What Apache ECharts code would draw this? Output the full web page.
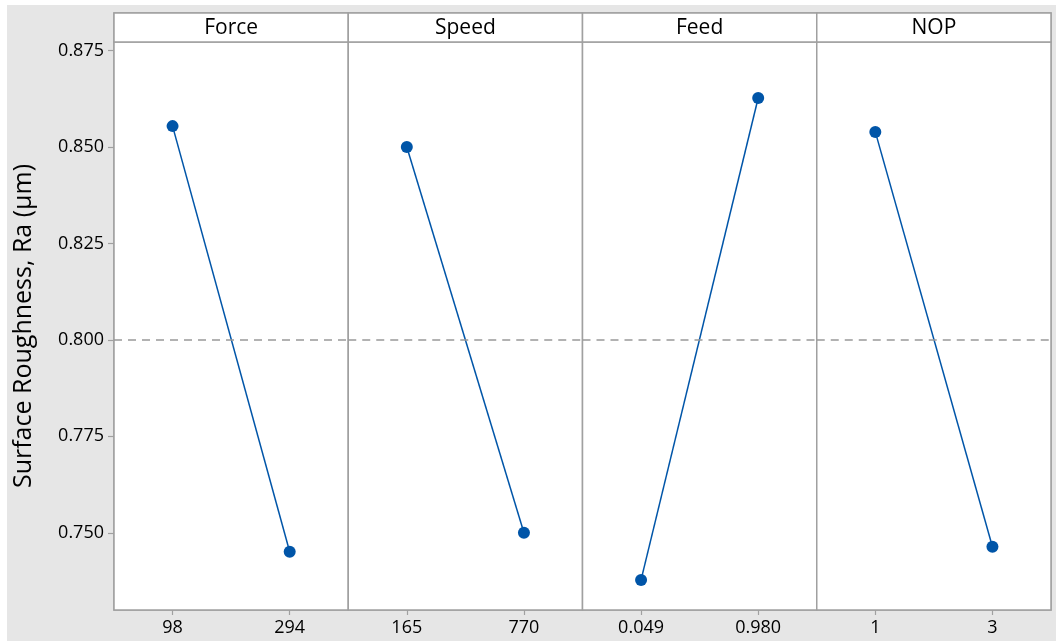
<!DOCTYPE html>
<html>
<head>
<meta charset="utf-8">
<script src="https://cdn.jsdelivr.net/npm/echarts@6/dist/echarts.min.js"></script>
<style>
html,body{margin:0;padding:0;background:#fff;}
#chart{width:1056px;height:641px;}
</style>
</head>
<body>
<div id="chart"></div>
<script>
const panels = ['Force', 'Speed', 'Feed', 'NOP'];
const levels = [['98', '294'], ['165', '770'], ['0.049', '0.980'], ['1', '3']];
const means = [[0.8554, 0.7451], [0.8500, 0.7500], [0.7378, 0.8627], [0.8539, 0.7464]];
const yTicks = [0.750, 0.775, 0.800, 0.825, 0.850, 0.875];
const grandMean = 0.800;
const yTitle = 'Surface Roughness, Ra (μm)';

const FONT = '"Open Sans", "Noto Sans", sans-serif';
const plotL = 114, plotR = 1051, plotT = 42, headT = 13, plotB = 610;
const W = 1056, H = 641;
const pw = (plotR - plotL) / panels.length;
const border = '#a0a0a0';
const lineColor = '#0055a8';

const chart = echarts.init(document.getElementById('chart'), null, {renderer: 'canvas'});

const grids = [], xAxes = [], yAxes = [], series = [], graphics = [];

graphics.push({type: 'rect', z: -10, shape: {x: 7, y: 5, width: W - 7, height: H - 5}, style: {fill: '#e6e6e6'}, silent: true});
graphics.push({type: 'rect', z: -9, shape: {x: plotL, y: headT, width: plotR - plotL, height: plotB - headT}, style: {fill: '#fff', stroke: border, lineWidth: 1.5}, silent: true});

panels.forEach((p, i) => {
  const left = plotL + i * pw;
  grids.push({left: left, top: plotT, width: pw, height: plotB - plotT, show: true, borderColor: border, borderWidth: 1.5, backgroundColor: '#fff'});
  xAxes.push({
    type: 'category', gridIndex: i, data: levels[i], boundaryGap: true,
    axisLine: {show: false},
    axisTick: {show: true, alignWithLabel: true, length: 5, lineStyle: {color: border, width: 1.2}},
    axisLabel: {color: '#000', fontSize: 18, fontFamily: FONT, margin: 9}
  });
  yAxes.push({
    type: 'value', gridIndex: i, min: 0.7300, max: 0.8772,
    splitLine: {show: false},
    axisLine: {show: false},
    axisTick: {show: i === 0, length: 6, lineStyle: {color: border, width: 1.2}, customValues: yTicks},
    axisLabel: {show: i === 0, color: '#000', fontSize: 18, fontFamily: FONT, margin: 10, customValues: yTicks, formatter: v => v.toFixed(3)},
    name: i === 0 ? yTitle : '', nameLocation: 'middle', nameGap: 78, nameRotate: 90,
    nameTextStyle: {color: '#000', fontSize: 25, fontFamily: FONT}
  });
  series.push({
    type: 'line', xAxisIndex: i, yAxisIndex: i, data: means[i],
    symbol: 'circle', symbolSize: 12,
    lineStyle: {color: lineColor, width: 1.5},
    itemStyle: {color: lineColor},
    markLine: {
      silent: true, symbol: ['none', 'none'], label: {show: false},
      lineStyle: {color: '#999', type: [8, 6], width: 1.5},
      data: [{yAxis: grandMean}]
    }
  });
  graphics.push({type: 'rect', z: 5, shape: {x: left, y: headT, width: pw, height: plotT - headT}, style: {fill: '#fff', stroke: border, lineWidth: 1.5}, silent: true});
  graphics.push({type: 'text', z: 6, x: left + pw / 2, y: (headT + plotT) / 2 + 1, style: {text: p, fill: '#000', font: '21px ' + FONT, textAlign: 'center', textVerticalAlign: 'middle'}, silent: true});
});

chart.setOption({
  animation: false,
  backgroundColor: '#fff',
  grid: grids,
  xAxis: xAxes,
  yAxis: yAxes,
  series: series,
  graphic: graphics
});
</script>
</body>
</html>
